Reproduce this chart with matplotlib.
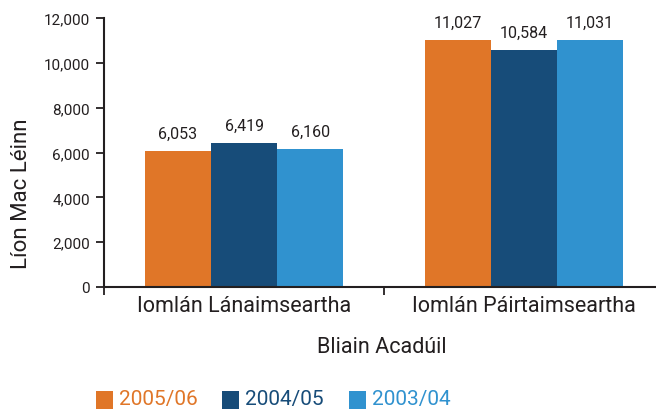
import matplotlib
matplotlib.use("Agg")
import matplotlib.pyplot as plt
import numpy as np
from matplotlib.patches import Rectangle

categories = ["Iomlán Lánaimseartha", "Iomlán Páirtaimseartha"]
series_names = ["2005/06", "2004/05", "2003/04"]
values_2005 = [6053, 11027]
values_2004 = [6419, 10584]
values_2003 = [6160, 11031]
series_values = [values_2005, values_2004, values_2003]
colors = ["#E07628", "#174C79", "#3092CF"]
yticks = [0, 2000, 4000, 6000, 8000, 10000, 12000]

plt.rcParams['font.family'] = ['Roboto', 'DejaVu Sans']
txt = "#231f20"

W, H = 656, 410
fig = plt.figure(figsize=(W/100, H/100), dpi=100)
ax_l, ax_r, ax_t, ax_b = 104, 664, 19, 288
ax = fig.add_axes([ax_l/W, 1-ax_b/H, (ax_r-ax_l)/W, (ax_b-ax_t)/H])

x = np.arange(len(categories))
bw = 0.236
for i, (vals, c) in enumerate(zip(series_values, colors)):
    pos = x + (i-1)*bw
    bars = ax.bar(pos, vals, width=bw, color=c, linewidth=0)
    for b, v in zip(bars, vals):
        ax.annotate(f"{v:,}", (b.get_x()+b.get_width()/2, v), xytext=(0, 9.5),
                    textcoords="offset points", ha="center", va="baseline",
                    fontsize=11.5, color=txt)

ax.set_xlim(-0.5, 1.5)
ax.set_ylim(0, 12000)
ax.set_yticks(yticks)
ax.set_yticklabels([f"{t:,}" for t in yticks], fontsize=11, color=txt)
ax.set_xticks([-0.5, 0.5, 1.5])
ax.set_xticklabels([])
ax.set_xticks(x, minor=True)
ax.set_xticklabels(categories, minor=True, fontsize=15.5, color=txt)
ax.tick_params(axis='x', which='minor', length=0, pad=6)
ax.tick_params(axis='x', which='major', length=6, width=1.3, color=txt, direction='out')
ax.tick_params(axis='y', length=6, width=1.3, color=txt, direction='out', pad=4)
for s in ["top", "right"]:
    ax.spines[s].set_visible(False)
for s in ["left", "bottom"]:
    ax.spines[s].set_linewidth(1.5)
    ax.spines[s].set_color(txt)
fig.text(22/W, 1-194/H, "Líon Mac Léinn", fontsize=16, color=txt, ha="center", va="center",
         rotation=90)
fig.text(382/W, 1-348/H, "Bliain Acadúil", fontsize=15.5, color=txt, ha="center", va="center")

# legend
leg_x = [96, 222, 349]
for lx, name, c in zip(leg_x, series_names, colors):
    fig.patches.append(Rectangle((lx/W, 0), 17/W, 18/H, transform=fig.transFigure,
                                 facecolor=c, edgecolor='none'))
    fig.text((lx+23)/W, 1-400/H, name, fontsize=15, color=c, ha="left", va="center")

fig.savefig("out.png", dpi=100)
